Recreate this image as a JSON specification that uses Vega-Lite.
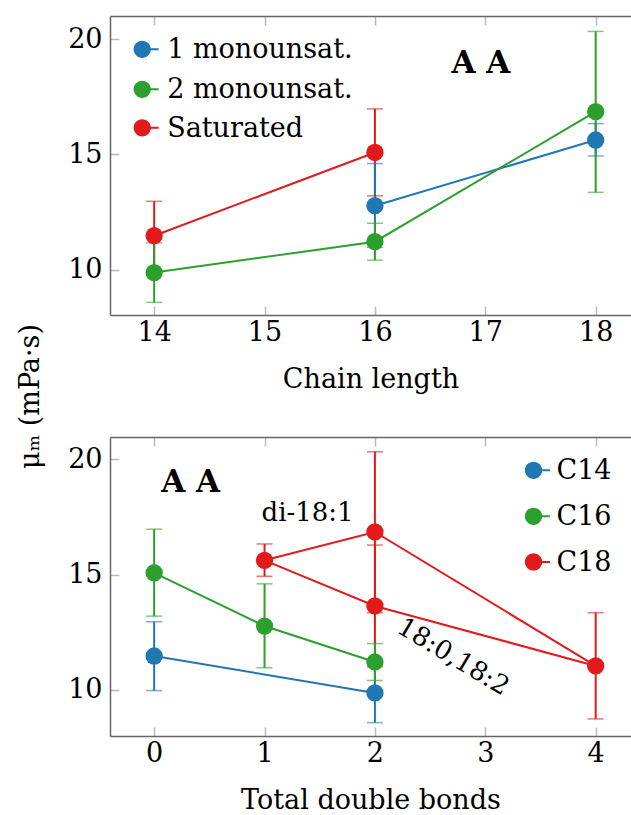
{
  "$schema": "https://vega.github.io/schema/vega-lite/v6.json",
  "padding": {"left": 16, "top": 15, "right": 0, "bottom": 0},
  "bounds": "flush",
  "spacing": 122,
  "resolve": {"scale": {"color": "independent"}},
  "datasets": {
    "top": [
      {"s": "Saturated", "x": 14, "y": 11.47, "lo": 9.97, "hi": 12.96},
      {"s": "Saturated", "x": 16, "y": 15.08, "lo": 13.2, "hi": 16.97},
      {"s": "1 monounsat.", "x": 16, "y": 12.77, "lo": 10.96, "hi": 14.6},
      {"s": "1 monounsat.", "x": 18, "y": 15.62, "lo": 14.93, "hi": 16.33},
      {"s": "2 monounsat.", "x": 14, "y": 9.87, "lo": 8.58, "hi": 11.16},
      {"s": "2 monounsat.", "x": 16, "y": 11.21, "lo": 10.41, "hi": 12.01},
      {"s": "2 monounsat.", "x": 18, "y": 16.85, "lo": 13.35, "hi": 20.33}
    ],
    "bot": [
      {"c": "C18", "x": 1, "y": 15.62, "lo": 14.93, "hi": 16.33},
      {"c": "C18", "x": 2, "y": 16.85, "lo": 13.35, "hi": 20.33},
      {"c": "C18", "x": 2, "y": 13.64, "lo": 11.0, "hi": 16.28},
      {"c": "C18", "x": 4, "y": 11.04, "lo": 8.74, "hi": 13.35},
      {"c": "C14", "x": 0, "y": 11.47, "lo": 9.97, "hi": 12.96},
      {"c": "C14", "x": 2, "y": 9.87, "lo": 8.58, "hi": 11.16},
      {"c": "C16", "x": 0, "y": 15.08, "lo": 13.2, "hi": 16.97},
      {"c": "C16", "x": 1, "y": 12.77, "lo": 10.96, "hi": 14.6},
      {"c": "C16", "x": 2, "y": 11.21, "lo": 10.41, "hi": 12.01}
    ],
    "botlines": [
      {"c": "C18", "p": "A", "x": 1, "y": 15.62},
      {"c": "C18", "p": "A", "x": 2, "y": 16.85},
      {"c": "C18", "p": "A", "x": 4, "y": 11.04},
      {"c": "C18", "p": "B", "x": 1, "y": 15.62},
      {"c": "C18", "p": "B", "x": 2, "y": 13.64},
      {"c": "C18", "p": "B", "x": 4, "y": 11.04},
      {"c": "C14", "p": "A", "x": 0, "y": 11.47},
      {"c": "C14", "p": "A", "x": 2, "y": 9.87},
      {"c": "C16", "p": "A", "x": 0, "y": 15.08},
      {"c": "C16", "p": "A", "x": 1, "y": 12.77},
      {"c": "C16", "p": "A", "x": 2, "y": 11.21}
    ]
  },
  "vconcat": [
    {
      "width": 521,
      "height": 299,
      "resolve": {"axis": {"x": "independent"}},
      "layer": [
        {
          "data": {"name": "top"},
          "mark": {"type": "rule", "strokeWidth": 2},
          "encoding": {
            "x": {"field": "x", "type": "quantitative", "scale": {"domain": [13.6, 18.32], "nice": false, "zero": false},
                  "axis": {"values": [14, 15, 16, 17, 18], "format": "d", "title": "Chain length", "orient": "bottom"}},
            "y": {"field": "lo", "type": "quantitative", "scale": {"domain": [8.03, 21.0], "nice": false, "zero": false},
                  "axis": {"values": [10, 15, 20], "title": "μₘ (mPa·s)", "titleAngle": -90, "titleX": -80, "titleY": 380, "titleAlign": "center", "titleBaseline": "middle"}},
            "y2": {"field": "hi"},
            "color": {"field": "s", "type": "nominal", "scale": {"domain": ["1 monounsat.", "2 monounsat.", "Saturated"], "range": ["#1f77b4", "#2ca02c", "#e31a1c"]}, "legend": null}
          }
        },
        {
          "data": {"name": "top"},
          "mark": {"type": "tick", "orient": "horizontal", "size": 16, "thickness": 1.5, "opacity": 0.6},
          "encoding": {
            "x": {"field": "x", "type": "quantitative", "axis": null},
            "y": {"field": "lo", "type": "quantitative"},
            "color": {"field": "s", "type": "nominal", "legend": null}
          }
        },
        {
          "data": {"name": "top"},
          "mark": {"type": "tick", "orient": "horizontal", "size": 16, "thickness": 1.5, "opacity": 0.6},
          "encoding": {
            "x": {"field": "x", "type": "quantitative", "axis": null},
            "y": {"field": "hi", "type": "quantitative"},
            "color": {"field": "s", "type": "nominal", "legend": null}
          }
        },
        {
          "data": {"name": "top"},
          "mark": {"type": "line", "strokeWidth": 2},
          "encoding": {
            "x": {"field": "x", "type": "quantitative", "axis": null},
            "y": {"field": "y", "type": "quantitative"},
            "color": {"field": "s", "type": "nominal", "legend": null}
          }
        },
        {
          "data": {"name": "top"},
          "mark": {"type": "circle", "size": 300, "opacity": 1},
          "encoding": {
            "x": {"field": "x", "type": "quantitative", "axis": null},
            "y": {"field": "y", "type": "quantitative"},
            "color": {"field": "s", "type": "nominal", "legend": null}
          }
        },
        {
          "data": {"values": [{"x": 16.96, "y": 18.93, "t": "A A"}]},
          "mark": {"type": "text", "fontSize": 31, "fontWeight": "bold", "font": "DejaVu Serif", "align": "center", "baseline": "middle"},
          "encoding": {
            "x": {"field": "x", "type": "quantitative", "axis": null},
            "y": {"field": "y", "type": "quantitative"},
            "text": {"field": "t"}
          }
        },
        {
          "data": {"values": [{"k": 1}]},
          "mark": {"type": "point", "filled": true, "opacity": 1, "size": 300, "color": "#1f77b4",
                   "shape": "M-1,0A1,1 0 1,1 1,0A1,1 0 1,1 -1,0Z M0.9,-0.12L1.9,-0.12L1.9,0.12L0.9,0.12Z"},
          "encoding": {"x": {"datum": 13.892, "type": "quantitative", "axis": null}, "y": {"datum": 19.555, "type": "quantitative"}}
        },
        {
          "data": {"values": [{"k": 1}]},
          "mark": {"type": "point", "filled": true, "opacity": 1, "size": 300, "color": "#2ca02c",
                   "shape": "M-1,0A1,1 0 1,1 1,0A1,1 0 1,1 -1,0Z M0.9,-0.12L1.9,-0.12L1.9,0.12L0.9,0.12Z"},
          "encoding": {"x": {"datum": 13.892, "type": "quantitative", "axis": null}, "y": {"datum": 17.82, "type": "quantitative"}}
        },
        {
          "data": {"values": [{"k": 1}]},
          "mark": {"type": "point", "filled": true, "opacity": 1, "size": 300, "color": "#e31a1c",
                   "shape": "M-1,0A1,1 0 1,1 1,0A1,1 0 1,1 -1,0Z M0.9,-0.12L1.9,-0.12L1.9,0.12L0.9,0.12Z"},
          "encoding": {"x": {"datum": 13.892, "type": "quantitative", "axis": null}, "y": {"datum": 16.15, "type": "quantitative"}}
        },
        {
          "data": {"values": [{"t": "1 monounsat."}]},
          "mark": {"type": "text", "fontSize": 27, "font": "DejaVu Serif", "align": "left", "baseline": "middle", "dy": 1},
          "encoding": {"x": {"datum": 14.118, "type": "quantitative", "axis": null}, "y": {"datum": 19.555, "type": "quantitative"}, "text": {"field": "t"}}
        },
        {
          "data": {"values": [{"t": "2 monounsat."}]},
          "mark": {"type": "text", "fontSize": 27, "font": "DejaVu Serif", "align": "left", "baseline": "middle", "dy": 1},
          "encoding": {"x": {"datum": 14.118, "type": "quantitative", "axis": null}, "y": {"datum": 17.82, "type": "quantitative"}, "text": {"field": "t"}}
        },
        {
          "data": {"values": [{"t": "Saturated"}]},
          "mark": {"type": "text", "fontSize": 27, "font": "DejaVu Serif", "align": "left", "baseline": "middle", "dy": 1},
          "encoding": {"x": {"datum": 14.118, "type": "quantitative", "axis": null}, "y": {"datum": 16.15, "type": "quantitative"}, "text": {"field": "t"}}
        },
        {
          "data": {"name": "top"},
          "mark": {"type": "point", "opacity": 0},
          "encoding": {
            "x": {"field": "x", "type": "quantitative",
                  "axis": {"orient": "top", "values": [14, 15, 16, 17, 18], "labels": false, "title": null}},
            "y": {"field": "y", "type": "quantitative"}
          }
        }
      ]
    },
    {
      "width": 521,
      "height": 299,
      "resolve": {"axis": {"x": "independent"}},
      "layer": [
        {
          "data": {"name": "bot"},
          "mark": {"type": "rule", "strokeWidth": 2},
          "encoding": {
            "x": {"field": "x", "type": "quantitative", "scale": {"domain": [-0.4, 4.32], "nice": false, "zero": false},
                  "axis": {"values": [0, 1, 2, 3, 4], "format": "d", "title": "Total double bonds", "orient": "bottom"}},
            "y": {"field": "lo", "type": "quantitative", "scale": {"domain": [8.0, 20.97], "nice": false, "zero": false},
                  "axis": {"values": [10, 15, 20], "title": null}},
            "y2": {"field": "hi"},
            "color": {"field": "c", "type": "nominal", "scale": {"domain": ["C14", "C16", "C18"], "range": ["#1f77b4", "#2ca02c", "#e31a1c"]}, "legend": null}
          }
        },
        {
          "data": {"name": "bot"},
          "mark": {"type": "tick", "orient": "horizontal", "size": 16, "thickness": 1.5, "opacity": 0.6},
          "encoding": {
            "x": {"field": "x", "type": "quantitative", "axis": null},
            "y": {"field": "lo", "type": "quantitative"},
            "color": {"field": "c", "type": "nominal", "legend": null}
          }
        },
        {
          "data": {"name": "bot"},
          "mark": {"type": "tick", "orient": "horizontal", "size": 16, "thickness": 1.5, "opacity": 0.6},
          "encoding": {
            "x": {"field": "x", "type": "quantitative", "axis": null},
            "y": {"field": "hi", "type": "quantitative"},
            "color": {"field": "c", "type": "nominal", "legend": null}
          }
        },
        {
          "data": {"name": "botlines"},
          "mark": {"type": "line", "strokeWidth": 2},
          "encoding": {
            "x": {"field": "x", "type": "quantitative", "axis": null},
            "y": {"field": "y", "type": "quantitative"},
            "color": {"field": "c", "type": "nominal", "legend": null},
            "detail": {"field": "p"}
          }
        },
        {
          "data": {"name": "bot"},
          "mark": {"type": "circle", "size": 300, "opacity": 1},
          "encoding": {
            "x": {"field": "x", "type": "quantitative", "axis": null},
            "y": {"field": "y", "type": "quantitative"},
            "color": {"field": "c", "type": "nominal", "legend": null}
          }
        },
        {
          "data": {"values": [{"x": 0.33, "y": 18.96, "t": "A A"}]},
          "mark": {"type": "text", "fontSize": 31, "fontWeight": "bold", "font": "DejaVu Serif", "align": "center", "baseline": "middle"},
          "encoding": {
            "x": {"field": "x", "type": "quantitative", "axis": null},
            "y": {"field": "y", "type": "quantitative"},
            "text": {"field": "t"}
          }
        },
        {
          "data": {"values": [{"x": 1.39, "y": 17.66, "t": "di-18:1"}]},
          "mark": {"type": "text", "fontSize": 26, "font": "DejaVu Serif", "align": "center", "baseline": "middle"},
          "encoding": {
            "x": {"field": "x", "type": "quantitative", "axis": null},
            "y": {"field": "y", "type": "quantitative"},
            "text": {"field": "t"}
          }
        },
        {
          "data": {"values": [{"x": 2.71, "y": 11.43, "t": "18:0,18:2"}]},
          "mark": {"type": "text", "fontSize": 26, "font": "DejaVu Serif", "align": "center", "baseline": "middle", "angle": 31},
          "encoding": {
            "x": {"field": "x", "type": "quantitative", "axis": null},
            "y": {"field": "y", "type": "quantitative"},
            "text": {"field": "t"}
          }
        },
        {
          "data": {"values": [{"k": 1}]},
          "mark": {"type": "point", "filled": true, "opacity": 1, "size": 300, "color": "#1f77b4",
                   "shape": "M-1,0A1,1 0 1,1 1,0A1,1 0 1,1 -1,0Z M0.9,-0.12L1.9,-0.12L1.9,0.12L0.9,0.12Z"},
          "encoding": {"x": {"datum": 3.437, "type": "quantitative", "axis": null}, "y": {"datum": 19.525, "type": "quantitative"}}
        },
        {
          "data": {"values": [{"k": 1}]},
          "mark": {"type": "point", "filled": true, "opacity": 1, "size": 300, "color": "#2ca02c",
                   "shape": "M-1,0A1,1 0 1,1 1,0A1,1 0 1,1 -1,0Z M0.9,-0.12L1.9,-0.12L1.9,0.12L0.9,0.12Z"},
          "encoding": {"x": {"datum": 3.437, "type": "quantitative", "axis": null}, "y": {"datum": 17.53, "type": "quantitative"}}
        },
        {
          "data": {"values": [{"k": 1}]},
          "mark": {"type": "point", "filled": true, "opacity": 1, "size": 300, "color": "#e31a1c",
                   "shape": "M-1,0A1,1 0 1,1 1,0A1,1 0 1,1 -1,0Z M0.9,-0.12L1.9,-0.12L1.9,0.12L0.9,0.12Z"},
          "encoding": {"x": {"datum": 3.437, "type": "quantitative", "axis": null}, "y": {"datum": 15.55, "type": "quantitative"}}
        },
        {
          "data": {"values": [{"t": "C14"}]},
          "mark": {"type": "text", "fontSize": 27, "font": "DejaVu Serif", "align": "left", "baseline": "middle", "dy": 1},
          "encoding": {"x": {"datum": 3.645, "type": "quantitative", "axis": null}, "y": {"datum": 19.525, "type": "quantitative"}, "text": {"field": "t"}}
        },
        {
          "data": {"values": [{"t": "C16"}]},
          "mark": {"type": "text", "fontSize": 27, "font": "DejaVu Serif", "align": "left", "baseline": "middle", "dy": 1},
          "encoding": {"x": {"datum": 3.645, "type": "quantitative", "axis": null}, "y": {"datum": 17.53, "type": "quantitative"}, "text": {"field": "t"}}
        },
        {
          "data": {"values": [{"t": "C18"}]},
          "mark": {"type": "text", "fontSize": 27, "font": "DejaVu Serif", "align": "left", "baseline": "middle", "dy": 1},
          "encoding": {"x": {"datum": 3.645, "type": "quantitative", "axis": null}, "y": {"datum": 15.55, "type": "quantitative"}, "text": {"field": "t"}}
        },
        {
          "data": {"name": "bot"},
          "mark": {"type": "point", "opacity": 0},
          "encoding": {
            "x": {"field": "x", "type": "quantitative",
                  "axis": {"orient": "top", "values": [0, 1, 2, 3, 4], "labels": false, "title": null}},
            "y": {"field": "y", "type": "quantitative"}
          }
        }
      ]
    }
  ],
  "config": {
    "font": "DejaVu Serif",
    "view": {"stroke": null},
    "axis": {
      "labelFont": "DejaVu Serif", "labelFontSize": 27, "labelColor": "#000",
      "titleFont": "DejaVu Serif", "titleFontSize": 27, "titleFontWeight": "normal", "titleColor": "#000",
      "tickColor": "#bbb", "tickWidth": 1.5, "tickSize": -9,
      "domainColor": "#666", "domainWidth": 1.5, "grid": false,
      "titlePadding": 21, "labelFlush": false, "labelOverlap": false
    },
    "axisX": {"labelPadding": 13},
    "axisY": {"labelPadding": 17}
  }
}
